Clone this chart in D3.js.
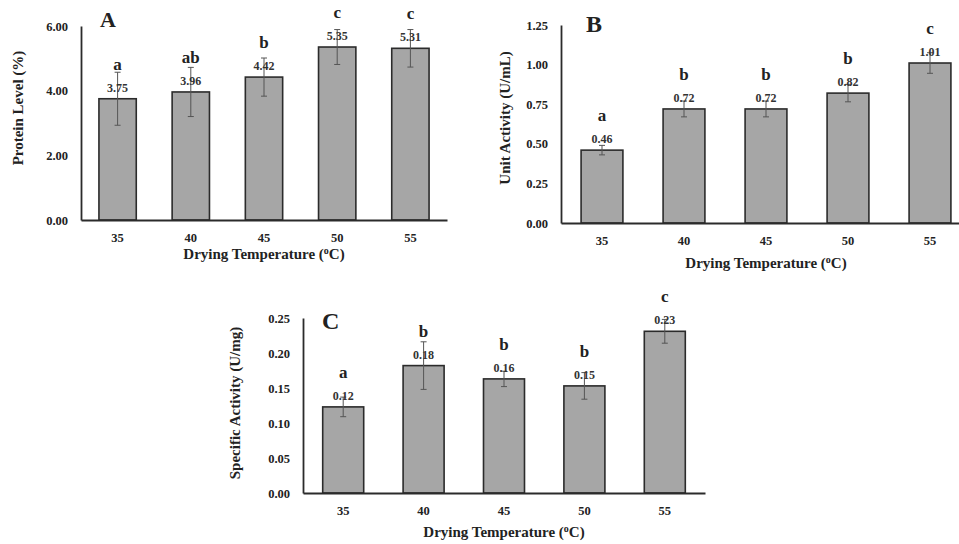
<!DOCTYPE html>
<html>
<head>
<meta charset="utf-8">
<script src="https://cdn.jsdelivr.net/npm/d3@7"></script>
<style>
  body { margin: 0; background: #fff; }
  svg text { font-family: "Liberation Serif", "Times New Roman", serif; font-weight: bold; fill: #222; }
</style>
</head>
<body>
<div class="chart"></div>
<script>
const temps = ["35", "40", "45", "50", "55"];

const protein = [3.75, 3.96, 4.42, 5.35, 5.31];
const proteinErr = [0.82, 0.76, 0.59, 0.54, 0.58];
const proteinLetters = ["a", "ab", "b", "c", "c"];
const proteinTicks = [0, 2, 4, 6];

const unitAct = [0.46, 0.72, 0.72, 0.82, 1.01];
const unitErr = [0.03, 0.05, 0.05, 0.055, 0.065];
const unitLetters = ["a", "b", "b", "b", "c"];
const unitTicks = [0, 0.25, 0.5, 0.75, 1.0, 1.25];

const specAct = [0.123, 0.182, 0.163, 0.153, 0.231];
const specErr = [0.014, 0.034, 0.011, 0.019, 0.017];
const specLetters = ["a", "b", "b", "b", "c"];
const specTicks = [0, 0.05, 0.1, 0.15, 0.2, 0.25];

const serif = "'Liberation Serif', 'Times New Roman', serif";

const panels = [
    { tag: "A", tagSize: 22, tagX: 100, tagY: 27, vals: protein, err: proteinErr, letters: proteinLetters,
      ticks: proteinTicks, max: 6, x0: 81, x1: 447, y0: 220, y1: 26,
      yTitle: "Protein Level (%)", yTitleX: 18, yTitleY: 108, xTitleDy: 39 },
    { tag: "B", tagSize: 24, tagX: 586, tagY: 32, vals: unitAct, err: unitErr, letters: unitLetters,
      ticks: unitTicks, max: 1.25, x0: 561, x1: 971, y0: 223, y1: 25,
      yTitle: "Unit Activity (U/mL)", yTitleX: 505, yTitleY: 118, xTitleDy: 45 },
    { tag: "C", tagSize: 24, tagX: 322, tagY: 329, vals: specAct, err: specErr, letters: specLetters,
      ticks: specTicks, max: 0.25, x0: 303, x1: 705, y0: 493, y1: 318,
      yTitle: "Specific Activity (U/mg)", yTitleX: 235, yTitleY: 403, xTitleDy: 44 }
];

const svg = d3.select(".chart").append("svg")
    .attr("width", 959)
    .attr("height", 544);

panels.forEach(function (p) {
    const g = svg.append("g");
    const data = temps.map((t, i) => ({ t: t, v: p.vals[i], e: p.err[i], l: p.letters[i] }));

    const xScale = d3.scaleBand()
        .domain(temps)
        .range([p.x0, p.x1])
        .paddingInner(0.49)
        .paddingOuter(0.245);

    const yScale = d3.scaleLinear()
        .domain([0, p.max])
        .range([p.y0, p.y1]);

    // bars
    g.selectAll("rect")
        .data(data)
        .enter()
        .append("rect")
        .attr("x", d => xScale(d.t))
        .attr("y", d => yScale(d.v))
        .attr("width", xScale.bandwidth())
        .attr("height", d => p.y0 - yScale(d.v))
        .attr("fill", "#a6a6a6")
        .attr("stroke", "#2b2b2b")
        .attr("stroke-width", 1.6);

    // error bars
    const cx = d => xScale(d.t) + xScale.bandwidth() / 2;
    const eb = g.selectAll(".err").data(data).enter().append("g").attr("class", "err")
        .attr("stroke", "#555").attr("stroke-width", 1);
    eb.append("line")
        .attr("x1", cx).attr("x2", cx)
        .attr("y1", d => yScale(d.v + d.e)).attr("y2", d => yScale(d.v - d.e));
    eb.append("line")
        .attr("x1", d => cx(d) - 3).attr("x2", d => cx(d) + 3)
        .attr("y1", d => yScale(d.v + d.e)).attr("y2", d => yScale(d.v + d.e));
    eb.append("line")
        .attr("x1", d => cx(d) - 3).attr("x2", d => cx(d) + 3)
        .attr("y1", d => yScale(d.v - d.e)).attr("y2", d => yScale(d.v - d.e));

    // value labels
    g.selectAll(".val").data(data).enter().append("text")
        .attr("class", "val")
        .attr("x", cx)
        .attr("y", d => yScale(d.v) - 7)
        .attr("text-anchor", "middle")
        .style("font-size", "12px")
        .style("fill", "#333")
        .text(d => d.v.toFixed(2));

    // significance letters
    g.selectAll(".let").data(data).enter().append("text")
        .attr("class", "let")
        .attr("x", cx)
        .attr("y", d => yScale(d.v) - 29)
        .attr("text-anchor", "middle")
        .style("font-size", "17px")
        .text(d => d.l);

    const xAxis = d3.axisBottom(xScale).tickSize(0).tickPadding(13);
    const yAxis = d3.axisLeft(yScale).tickValues(p.ticks).tickSize(0).tickPadding(13)
        .tickFormat(d3.format(".2f"));

    const xg = g.append("g")
        .attr("transform", "translate(0," + p.y0 + ")")
        .call(xAxis);
    const yg = g.append("g")
        .attr("transform", "translate(" + p.x0 + ",0)")
        .call(yAxis);
    [xg, yg].forEach(a => {
        a.attr("font-family", serif).attr("font-size", 12.5);
        a.select(".domain").attr("stroke", "#2b2b2b").attr("stroke-width", 1.8);
        a.selectAll("text").style("font-size", "12.5px").attr("fill", null);
    });

    g.append("text")
        .attr("x", (p.x0 + p.x1) / 2)
        .attr("y", p.y0 + p.xTitleDy)
        .attr("text-anchor", "middle")
        .style("font-size", "15px")
        .html("Drying Temperature (<tspan baseline-shift=\"super\" font-size=\"10px\">o</tspan>C)");

    g.append("text")
        .attr("transform", "translate(" + p.yTitleX + "," + p.yTitleY + ") rotate(-90)")
        .attr("dy", "0.35em")
        .attr("text-anchor", "middle")
        .style("font-size", "15px")
        .text(p.yTitle);

    g.append("text")
        .attr("x", p.tagX)
        .attr("y", p.tagY)
        .style("font-size", p.tagSize + "px")
        .text(p.tag);
});
</script>
</body>
</html>
